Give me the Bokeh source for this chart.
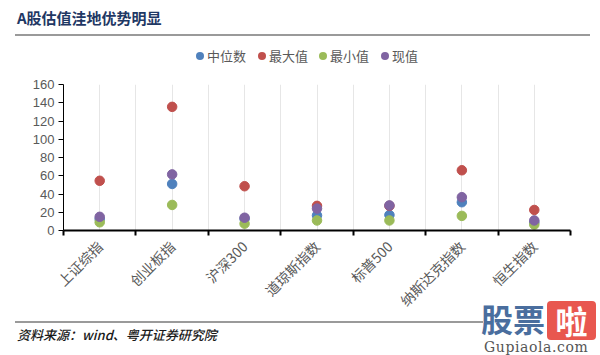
import math
from bokeh.plotting import figure
from bokeh.layouts import column
from bokeh.models import FixedTicker, ColumnDataSource, Range1d, Div
from bokeh.embed import file_html
from bokeh.resources import INLINE

categories = ["上证综指", "创业板指", "沪深300", "道琼斯指数", "标普500", "纳斯达克指数", "恒生指数"]
median_vals = [12.5, 51, 13, 16.5, 17, 31, 9]
max_vals = [54.5, 135.5, 48.5, 27, 27, 66, 22.5]
min_vals = [9, 28, 7.5, 11, 11, 16, 6.5]
current_vals = [15, 61.5, 14, 24, 27.5, 36.5, 11]
series_names = ["中位数", "最大值", "最小值", "现值"]
series_colors = ["#4F81BD", "#C0504D", "#9BBB59", "#8064A2"]
y_ticks = [0, 20, 40, 60, 80, 100, 120, 140, 160]
title_text = "A股估值洼地优势明显"
source_text = "资料来源：wind、粤开证券研究院"

W = 600
TOP_H, MAIN_H, BOT_H = 72, 248, 35
FONT = "'Noto Sans CJK SC', sans-serif"

# ---------- top: title, rule, legend ----------
legend_x = [196, 258, 319, 381]
legend_html = ""
for lx, name, col in zip(legend_x, series_names, series_colors):
    legend_html += (
        f'<div style="position:absolute;left:{lx}px;top:52px;width:8px;height:8px;'
        f'border-radius:50%;background:{col};"></div>'
        f'<div style="position:absolute;left:{lx + 11}px;top:47px;font-size:13px;'
        f'line-height:18px;color:#595959;white-space:nowrap;">{name}</div>'
    )
top_html = (
    f'<div style="position:relative;width:{W}px;height:{TOP_H}px;font-family:{FONT};'
    f'background:white;">'
    f'<div style="position:absolute;left:17px;top:8px;font-size:15px;font-weight:bold;'
    f'line-height:20px;color:#1F3864;white-space:nowrap;">{title_text}</div>'
    f'<div style="position:absolute;left:15px;top:34px;width:575px;height:2px;'
    f'background:#9A9A9A;"></div>'
    f'{legend_html}</div>'
)
top = Div(text=top_html, width=W, height=TOP_H, margin=0)

# ---------- main chart ----------
p = figure(width=W, height=MAIN_H, output_backend="svg", toolbar_location=None,
           x_range=Range1d(0, len(categories)), y_range=Range1d(0, 160),
           min_border_left=63, min_border_right=30, min_border_top=12, min_border_bottom=88,
           margin=0)
p.outline_line_color = None
p.background_fill_color = "white"
p.border_fill_color = "white"

xs = [i + 0.5 for i in range(len(categories))]
for vals, col in zip([median_vals, max_vals, min_vals, current_vals], series_colors):
    src = ColumnDataSource(dict(x=xs, y=vals))
    p.scatter("x", "y", source=src, size=9.5, fill_color=col, line_color=col)

p.xaxis.ticker = FixedTicker(ticks=xs, minor_ticks=list(range(len(categories) + 1)))
p.xaxis.major_label_overrides = {x: c for x, c in zip(xs, categories)}
p.xaxis.major_label_orientation = math.pi / 4
p.xaxis.major_tick_out = 0
p.xaxis.major_tick_in = 0
p.xaxis.minor_tick_out = 5
p.xaxis.minor_tick_in = 0
p.xaxis.minor_tick_line_color = "black"
p.xaxis.minor_tick_line_width = 2
p.xaxis.axis_line_color = "black"
p.xaxis.axis_line_width = 2
p.xaxis.major_label_text_font = "Noto Sans CJK SC"
p.xaxis.major_label_text_font_size = "14px"
p.xaxis.major_label_text_color = "#595959"
p.xaxis.major_label_standoff = 8

p.yaxis.ticker = FixedTicker(ticks=y_ticks)
p.yaxis.minor_tick_line_color = None
p.yaxis.major_tick_out = 5
p.yaxis.major_tick_in = 0
p.yaxis.axis_line_color = "black"
p.yaxis.major_label_text_font = "Liberation Sans"
p.yaxis.major_label_text_font_size = "13px"
p.yaxis.major_label_text_color = "#595959"
p.yaxis.major_label_standoff = 4

p.ygrid.grid_line_color = None
p.xgrid.ticker = FixedTicker(ticks=[0.5 * k for k in range(1, 2 * len(categories) + 1)])
p.xgrid.grid_line_color = "#E6E6E6"

# ---------- bottom: rule, source, watermark ----------
bot_html = (
    f'<div style="position:relative;width:{W}px;height:{BOT_H}px;font-family:{FONT};overflow:visible;">'
    f'<div style="position:absolute;left:15px;top:1px;width:468px;height:1.5px;background:#9A9A9A;"></div>'
    f'<div style="position:absolute;left:17px;top:6px;font-size:13px;font-style:italic;font-weight:500;'
    f'line-height:18px;color:#1A1A1A;white-space:nowrap;">{source_text}</div>'
    f'<div style="position:absolute;left:481px;top:-24px;font-size:32px;font-weight:bold;'
    f'line-height:44px;color:#4A6E9E;white-space:nowrap;">股票</div>'
    f'<div style="position:absolute;left:547px;top:-19px;width:49px;height:39px;'
    f'background:#E8574F;border-radius:4px;"></div>'
    f'<div style="position:absolute;left:547px;top:-22px;width:49px;text-align:center;font-size:32px;'
    f'font-weight:bold;line-height:44px;color:white;">啦</div>'
    f'<div style="position:absolute;left:484px;top:19px;font-family:\'DejaVu Serif\',serif;'
    f'font-size:14px;letter-spacing:0.6px;line-height:16px;color:#555555;white-space:nowrap;">Gupiaola.com</div>'
    f'</div>'
)
bot = Div(text=bot_html, width=W, height=BOT_H, margin=0, styles={"overflow": "visible", "z-index": "5"})

layout = column(top, p, bot, spacing=0)
open("out.html", "w").write(file_html(layout, INLINE))
